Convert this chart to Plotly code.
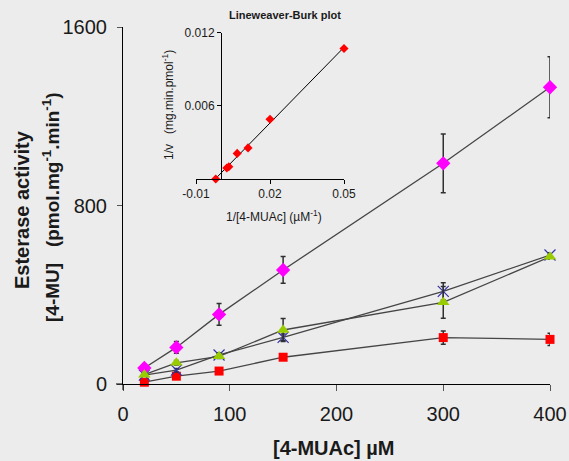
import numpy as np
import plotly.graph_objects as go

# ---- main data ----
substrate = [20, 50, 90, 150, 300, 400]
magenta_vals = [72, 164, 312, 511, 989, 1330]
magenta_err = [8, 26, 49, 60, 132, 137]
blue_vals = [40, 62, 130, 209, 415, 578]
blue_err = [5, 8, 10, 15, 39, 10]
green_vals = [42, 95, 124, 242, 366, 570]
green_err = [5, 10, 10, 52, 71, 10]
red_vals = [8, 35, 58, 120, 208, 200]
red_err = [3, 5, 6, 8, 30, 28]

# ---- inset (Lineweaver-Burk) data ----
inv_s = [-0.002, 0.0025, 0.0033, 0.0067, 0.0111, 0.02, 0.05]
inv_v = [0.0, 0.0009, 0.0010, 0.0021, 0.00255, 0.0049, 0.0107]

main_yticks = [0, 800, 1600]
main_xticks = [0, 100, 200, 300, 400]
inset_xticks = [-0.01, 0.02, 0.05]
inset_yticks = [0.006, 0.012]

FONT = "Liberation Sans, Arial, sans-serif"
BG = "#ececec"
LINE = "#454545"
ERR = "#303030"
TXT = "#1a1a1a"

fig = go.Figure()

def add_series(x, y, e, symbol, color, size, line_w=0, mline_color=None):
    fig.add_trace(go.Scatter(
        x=x, y=y, mode="lines+markers", cliponaxis=False,
        line=dict(color=LINE, width=1.3),
        marker=dict(symbol=symbol, color=color, size=size,
                    line=dict(width=line_w, color=mline_color or color)),
        error_y=dict(type="data", array=e, visible=True, color=ERR,
                     thickness=1.5, width=2.5),
        showlegend=False, xaxis="x", yaxis="y"))

add_series(substrate, red_vals, red_err, "square", "#ff0000", 9)
add_series(substrate, blue_vals, blue_err, "x-thin", "#3030a8", 11, 1.2, "#3030a8")
add_series(substrate, magenta_vals, magenta_err, "diamond", "#ff00ff", 11)
add_series(substrate, green_vals, green_err, "triangle-up", "#99cc00", 11)

# inset fit line
coef = np.polyfit(inv_s, inv_v, 1)
lx = np.array([min(inv_s), max(inv_s)])
fig.add_trace(go.Scatter(x=lx, y=np.polyval(coef, lx), mode="lines",
                         line=dict(color="#000000", width=1), cliponaxis=False,
                         showlegend=False, xaxis="x2", yaxis="y2"))
fig.add_trace(go.Scatter(x=inv_s, y=inv_v, mode="markers", cliponaxis=False,
                         marker=dict(symbol="diamond", color="#ff0000", size=7),
                         showlegend=False, xaxis="x2", yaxis="y2"))

L, R, T, B = 123, 550, 27, 384
W, H = 569, 461
pw, ph = R - L, B - T

def px_x(p):
    return (p - L) / pw

def px_y(p):
    return (B - p) / ph

tick_font = dict(family=FONT, size=20, color=TXT)
small_font = dict(family=FONT, size=12, color=TXT)

common = dict(showline=True, linecolor="#000000", linewidth=1, showgrid=False,
              zeroline=False, automargin=False, ticks="outside")

fig.update_layout(
    template="none",
    width=W, height=H,
    margin=dict(l=L, r=W - R, t=T, b=H - B, pad=0),
    paper_bgcolor=BG, plot_bgcolor=BG,
    xaxis=dict(range=[0, 400], tickvals=main_xticks, ticklen=6,
               tickcolor="#555555", tickfont=tick_font, ticklabelstandoff=6,
               **common),
    yaxis=dict(range=[0, 1600], tickvals=main_yticks, ticklen=5,
               tickcolor="#555555", tickfont=tick_font, ticklabelstandoff=6,
               **common),
    xaxis2=dict(domain=[px_x(196), px_x(344)], anchor="y2",
                range=[-0.01, 0.05], tickvals=inset_xticks,
                ticktext=["-0.01", "0.02", "0.05"], ticklen=4,
                tickcolor="#000000", tickfont=small_font, **common),
    yaxis2=dict(domain=[px_y(179), px_y(32.7)], anchor="free",
                position=px_x(221), range=[0, 0.012], tickvals=inset_yticks,
                ticktext=["0.006", "0.012"], ticklen=4,
                tickcolor="#000000", tickfont=small_font, **common),
)

# small axis overhangs where the main axes cross
fig.add_shape(type="line", xref="paper", yref="paper", x0=px_x(116), x1=0,
              y0=0, y1=0, line=dict(color="#000000", width=1))
fig.add_shape(type="line", xref="paper", yref="paper", x0=0, x1=0,
              y0=px_y(390), y1=0, line=dict(color="#000000", width=1))

ann = [
    dict(text="<b>[4-MUAc] µM</b>", x=px_x(334), y=px_y(448),
         font=dict(family=FONT, size=20, color=TXT)),
    dict(text="<b>Esterase activity</b>", x=px_x(22), y=px_y(210), textangle=-90,
         font=dict(family=FONT, size=20, color=TXT)),
    dict(text="<b>[4-MU]   (pmol.mg<sup>-1</sup>.min<sup>-1</sup>)</b>", x=px_x(51),
         y=px_y(208), textangle=-90, font=dict(family=FONT, size=19, color=TXT)),
    dict(text="<b>Lineweaver-Burk plot</b>", x=px_x(285), y=px_y(15),
         font=dict(family=FONT, size=11, color=TXT)),
    dict(text="1/[4-MUAc] (µM<sup>-1</sup>)", x=px_x(274), y=px_y(216),
         font=dict(family=FONT, size=12, color=TXT)),
    dict(text="1/v   (mg.min.pmol<sup>-1</sup>)", x=px_x(168), y=px_y(105),
         textangle=-90, font=dict(family=FONT, size=12, color=TXT)),
]
for a in ann:
    fig.add_annotation(xref="paper", yref="paper", showarrow=False,
                       xanchor="center", yanchor="middle", **a)

fig.write_html("out.html", config={"displayModeBar": False},
               post_script="document.body.style.margin='0';"
                           "document.body.style.background='#ececec';")
